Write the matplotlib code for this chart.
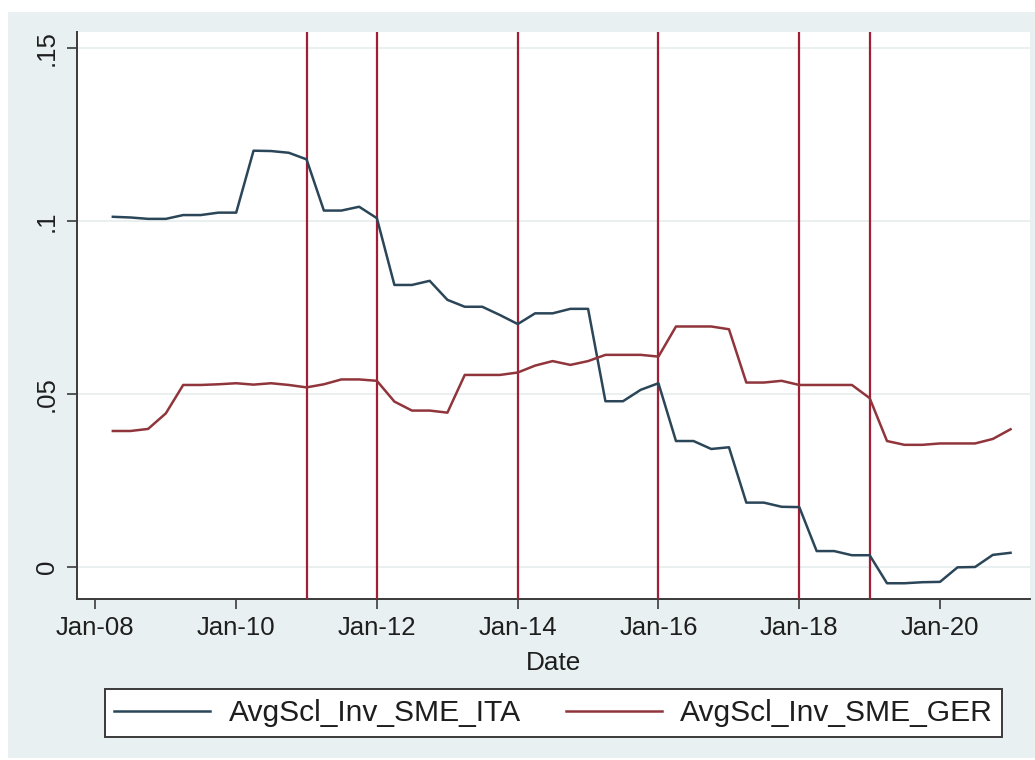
import numpy as np
import pandas as pd
import matplotlib
matplotlib.use("Agg")
import matplotlib.pyplot as plt
import matplotlib.dates as mdates
from matplotlib.patches import Rectangle

plt.rcParams['font.family'] = ['Liberation Sans', 'DejaVu Sans']

# quarterly observations, 2008Q2 .. 2021Q1
dates = pd.date_range('2008-04-01', '2021-01-01', freq='QS')

ita = [0.1012, 0.1010, 0.1006, 0.1006, 0.1017, 0.1017, 0.1024, 0.1024,
       0.1203, 0.1202, 0.1197, 0.1178, 0.1030, 0.1030, 0.1041, 0.1008,
       0.0815, 0.0815, 0.0827, 0.0772, 0.0752, 0.0752, 0.0728, 0.0702,
       0.0733, 0.0733, 0.0746, 0.0746, 0.0479, 0.0479, 0.0512, 0.0531,
       0.0364, 0.0364, 0.0341, 0.0346, 0.0186, 0.0186, 0.0174, 0.0173,
       0.0046, 0.0046, 0.0034, 0.0034, -0.0047, -0.0047, -0.0044, -0.0043,
       -0.0001, 0.0000, 0.0035, 0.0041]

ger = [0.0393, 0.0393, 0.0399, 0.0444, 0.0526, 0.0526, 0.0528, 0.0531,
       0.0527, 0.0531, 0.0526, 0.0519, 0.0528, 0.0542, 0.0542, 0.0538,
       0.0478, 0.0452, 0.0452, 0.0446, 0.0555, 0.0555, 0.0555, 0.0562,
       0.0582, 0.0595, 0.0584, 0.0595, 0.0613, 0.0613, 0.0613, 0.0608,
       0.0695, 0.0695, 0.0695, 0.0687, 0.0533, 0.0533, 0.0538, 0.0526,
       0.0526, 0.0526, 0.0526, 0.0488, 0.0364, 0.0353, 0.0353, 0.0357,
       0.0357, 0.0357, 0.0370, 0.0398]

event_dates = ['2011-01-01', '2012-01-01', '2014-01-01',
               '2016-01-01', '2018-01-01', '2019-01-01']

xtick_dates = ['2008-01-01', '2010-01-01', '2012-01-01', '2014-01-01',
               '2016-01-01', '2018-01-01', '2020-01-01']
yticks = [0, 0.05, 0.1, 0.15]
ytick_labels = ['0', '.05', '.1', '.15']

c_ita = '#2b4658'
c_ger = '#90353b'
c_vline = '#9e1f36'
bg = '#e9f0f2'

fig = plt.figure(figsize=(10.35, 7.6), dpi=100, facecolor='white')
fig.patches.append(Rectangle((8 / 1035, 2 / 760), 1027 / 1035, 746 / 760,
                             transform=fig.transFigure, facecolor=bg,
                             edgecolor='none', zorder=-10))

ax = fig.add_axes([77 / 1035, 161 / 760, 953 / 1035, 567 / 760])
ax.set_facecolor('white')

for d in event_dates:
    ax.axvline(pd.Timestamp(d), color=c_vline, lw=1.6, zorder=3)

ax.plot(dates, ita, color=c_ita, lw=1.8, label='AvgScl_Inv_SME_ITA', zorder=4)
ax.plot(dates, ger, color=c_ger, lw=1.8, label='AvgScl_Inv_SME_GER', zorder=4)

ax.set_xlim(pd.Timestamp('2007-09-28'), pd.Timestamp('2021-04-12'))
ax.set_ylim(-0.00925, 0.1546)

ax.set_yticks(yticks)
ax.set_yticklabels(ytick_labels, rotation=90, va='center')
ax.set_xticks([pd.Timestamp(d) for d in xtick_dates])
ax.xaxis.set_major_formatter(mdates.DateFormatter('%b-%y'))

ax.grid(axis='y', color='#e6eced', lw=1.2, zorder=1)
ax.set_axisbelow(True)

for s in ['top', 'right']:
    ax.spines[s].set_visible(False)
for s in ['left', 'bottom']:
    ax.spines[s].set_color('#3a3a3a')
    ax.spines[s].set_linewidth(1.4)

ax.tick_params(axis='y', length=7.2, width=1.2, color='#3a3a3a',
               labelsize=18.5, pad=6, labelcolor='#1e1e1e')
ax.tick_params(axis='x', length=7.2, width=1.2, color='#3a3a3a',
               labelsize=18.5, pad=5, labelcolor='#1e1e1e')
ax.set_xlabel('Date', fontsize=18.8, color='#1e1e1e', labelpad=8)

leg = fig.legend(loc='center', bbox_to_anchor=(553.5 / 1035, 47 / 760),
                 ncol=2, fontsize=21.6, frameon=True, fancybox=False,
                 edgecolor='#3a3a3a', facecolor='white', framealpha=1,
                 handlelength=3.2, handletextpad=0.6, columnspacing=1.5,
                 borderpad=0.32, borderaxespad=0)
leg.get_frame().set_linewidth(1.4)
for t in leg.get_texts():
    t.set_color('#1e1e1e')

fig.savefig('out.png', dpi=100, facecolor=fig.get_facecolor())
